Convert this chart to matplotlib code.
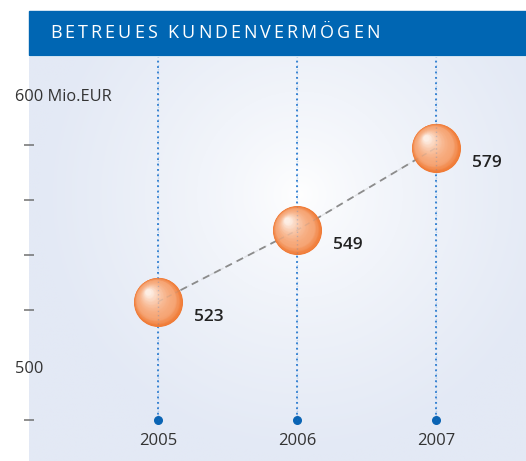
import numpy as np
import matplotlib.pyplot as plt
from matplotlib.patches import Rectangle
from matplotlib.transforms import offset_copy

# data
years = [2005, 2006, 2007]
values = [523, 549, 579]
tick_values = [480, 520, 540, 560, 580]
title = "BETREUES KUNDENVERMÖGEN"

W, H = 526, 461
fig = plt.figure(figsize=(W / 100, H / 100), dpi=100)
fig.patch.set_facecolor("white")
plt.rcParams['font.family'] = ['Open Sans', 'DejaVu Sans']

# header bar
fig.patches.append(Rectangle((29 / W, 1 - 55 / H), 1 - 29 / W, 44 / H,
                             transform=fig.transFigure, color="#0066b3", zorder=0))

ax = fig.add_axes([29 / W, 0, 1 - 29 / W, 1 - 57 / H])
ax.set_xlim(2004.072, 2007.647)
ax.set_ylim(465.1, 612)

# radial background
gx, gy = np.meshgrid(np.linspace(29, 526, 300), np.linspace(57, 461, 260))
d = np.hypot(gx - 300, gy - 195) / 260.0
d = np.clip(d, 0, 1) ** 0.75
c_in = np.array([1.0, 1.0, 1.0])
c_out = np.array([0xe3, 0xe9, 0xf5]) / 255
img = c_in[None, None, :] * (1 - d[..., None]) + c_out[None, None, :] * d[..., None]
ax.imshow(img, extent=[0, 1, 0, 1], transform=ax.transAxes, aspect='auto', zorder=0)

for s in ax.spines.values():
    s.set_visible(False)
ax.set_xticks([])
ax.set_yticks(tick_values)
ax.set_yticklabels([])
ax.tick_params(axis='y', direction='inout', length=7, width=1.1, color='#707070')

# vertical dotted lines with end dots
for yr in years:
    ax.plot([yr, yr], [480, 612], color='#2a7bd0', lw=1.3, ls=(0, (1, 2)), zorder=1)
ax.scatter(years, [480] * len(years), s=30, color='#0a64b4', zorder=2)

# dashed connection
ax.plot(years, values, color='#8c8c8c', lw=1.3, ls=(0, (4, 3)), zorder=2)

# spheres made of layered circles
R = 24.5  # px
edge = np.array([0xf0, 0x78, 0x32]) / 255
mid = np.array([0xf6, 0xa6, 0x76]) / 255
hi = np.array([0xfd, 0xee, 0xe4]) / 255
n = 50
for k in range(n):
    t = k / (n - 1)
    r = R * (1 - 0.88 * t)
    dx, dy = -0.4 * R * t, 0.4 * R * t
    if t < 0.25:
        col = edge + (mid - edge) * (t / 0.25)
    else:
        col = mid + (hi - mid) * ((t - 0.25) / 0.75) ** 1.6
    tr = offset_copy(ax.transData, fig=fig, x=dx, y=dy, units='dots')
    ax.scatter(years, values, s=(2 * r * 0.72) ** 2, color=col, lw=0,
               transform=tr, zorder=3 + k * 0.01)

# faint lines showing through the spheres
for yr in years:
    ax.plot([yr, yr], [480, 612], color='#2a7bd0', lw=1.0, ls=(0, (1, 2)),
            alpha=0.25, zorder=4)
ax.plot(years, values, color='#8c8c8c', lw=1.0, ls=(0, (4, 3)), alpha=0.2, zorder=4)

# value labels
for yr, v in zip(years, values):
    ax.annotate(str(v), (yr, v), xytext=(36, -15), textcoords='offset pixels',
                ha='left', va='center', fontsize=12.5, fontweight='semibold',
                color='#222222', zorder=5)

# year labels
for yr in years:
    ax.text(yr, 472.4, str(yr), ha='center', va='center', fontsize=12,
            color='#333333', zorder=5)

# y labels
fig.text(15 / W, 1 - 97 / H, "600 Mio.EUR", ha='left', va='center',
         fontsize=11.8, color='#333333', zorder=5)
fig.text(15 / W, 1 - 369 / H, "500", ha='left', va='center',
         fontsize=11.8, color='#333333', zorder=5)

# letter-spaced title
fig.canvas.draw()
renderer = fig.canvas.get_renderer()
x = 50
for ch in title:
    t = fig.text(x / W, 1 - 33 / H, ch, ha='left', va='center', fontsize=13,
                 color='white', zorder=5)
    w = t.get_window_extent(renderer).width if ch != ' ' else 5
    x += w + 3.0

fig.savefig("out.png", dpi=100)
